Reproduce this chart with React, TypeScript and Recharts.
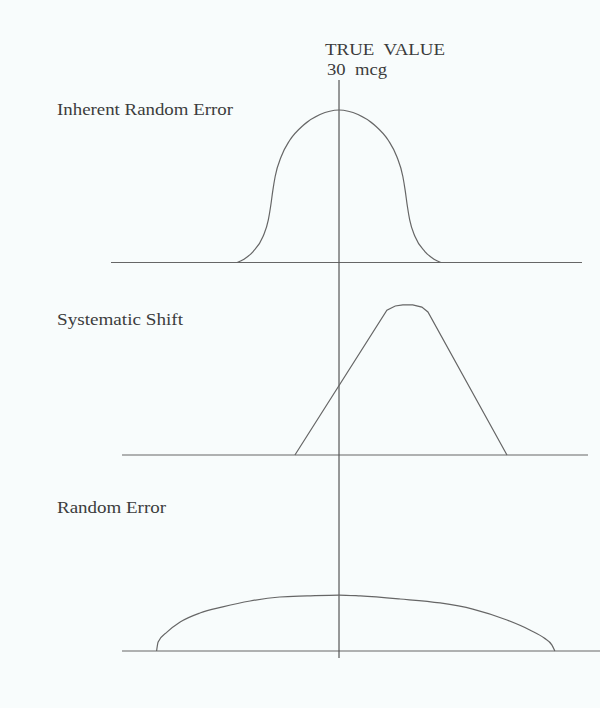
import React from 'react';
import { ComposedChart, Line, XAxis, YAxis, ReferenceLine, Customized } from 'recharts';

// ---- data (x in mcg-like units, y in relative frequency) ----
const TRUE_VALUE = 30;
const X_DOMAIN: [number, number] = [0, 64.34];

const inherentX = [16.6, 17.5, 18.7, 20.0, 20.7, 21.0, 21.3, 21.6, 22.4, 23.5, 25.3, 27.5, 30, 32.5, 34.7, 36.5, 37.6, 38.4, 38.7, 39.0, 39.3, 40.0, 41.3, 42.5, 43.4];
const inherentY = [0, 0.22, 0.72, 1.7, 2.79, 3.67, 4.75, 5.64, 6.95, 8.0, 9.0, 9.7, 10, 9.7, 9.0, 8.0, 6.95, 5.64, 4.75, 3.67, 2.79, 1.7, 0.72, 0.22, 0];

const shiftX = [24.2, 36.3, 37.4, 38.4, 39.7, 40.9, 41.7, 52.1];
const shiftY = [0, 9.5, 9.77, 9.84, 9.84, 9.7, 9.38, 0];

const randomX = [6.0, 6.2, 7.4, 9.1, 11.7, 14.7, 18.3, 22.2, 25.8, 30.0, 32.8, 38.0, 43.3, 47.6, 52.1, 55.1, 57.0, 58.0, 58.4];
const randomY = [0, 0.59, 1.25, 1.9, 2.49, 2.89, 3.28, 3.54, 3.61, 3.67, 3.61, 3.41, 3.15, 2.75, 2.03, 1.38, 0.85, 0.4, 0];

const inherentBaseline: [number, number] = [0, 61.97];
const shiftBaseline: [number, number] = [1.45, 62.76];
const randomBaseline: [number, number] = [1.45, 64.34];

const panelLabels = ['Inherent Random Error', 'Systematic Shift', 'Random Error'];
const trueValueLabels = ['TRUE  VALUE', '30  mcg'];

// ---- layout ----
const W = 600;
const H = 708;
const PLOT_TOP = 80;
const PLOT_BOTTOM = 658;
const PLOT_LEFT = 111;
const Y_PX = 15.25;

const LINE = '#666';
const TEXT = '#3c3c3c';
const FONT = '"Liberation Serif", "Times New Roman", serif';

const toRows = (xs: number[], ys: number[]) => xs.map((x, i) => ({ x, y: ys[i] }));
const domainFor = (basePx: number): [number, number] => [
  -(PLOT_BOTTOM - basePx) / Y_PX,
  (basePx - PLOT_TOP) / Y_PX,
];

const panels = [
  { id: 'inherent', base: 262.5, rows: toRows(inherentX, inherentY), baseline: inherentBaseline, type: 'monotone' as const, label: panelLabels[0], labelY: 115, labelLen: 176 },
  { id: 'shift', base: 455, rows: toRows(shiftX, shiftY), baseline: shiftBaseline, type: 'linear' as const, label: panelLabels[1], labelY: 325, labelLen: 126 },
  { id: 'random', base: 651, rows: toRows(randomX, randomY), baseline: randomBaseline, type: 'monotone' as const, label: panelLabels[2], labelY: 513, labelLen: 109 },
];

const Texts = () => (
  <g fontFamily={FONT} fill={TEXT} fontSize={17} style={{ whiteSpace: 'pre' }}>
    <text x={325} y={55} textLength={120} lengthAdjust="spacingAndGlyphs" xmlSpace="preserve">{trueValueLabels[0]}</text>
    <text x={327} y={75} textLength={60} lengthAdjust="spacingAndGlyphs" xmlSpace="preserve">{trueValueLabels[1]}</text>
    {panels.map((p) => (
      <text key={p.id} x={57} y={p.labelY} textLength={p.labelLen} lengthAdjust="spacingAndGlyphs">{p.label}</text>
    ))}
  </g>
);

export default function App() {
  return (
    <div style={{ position: 'fixed', left: 0, top: 0, width: W, height: H, background: '#f8fcfc' }}>
      <ComposedChart
        width={W}
        height={H}
        margin={{ top: PLOT_TOP, right: 0, bottom: H - PLOT_BOTTOM, left: PLOT_LEFT }}
      >
        <XAxis type="number" dataKey="x" domain={X_DOMAIN} allowDataOverflow hide />
        {panels.map((p) => (
          <YAxis key={p.id} yAxisId={p.id} type="number" domain={domainFor(p.base)} allowDataOverflow hide />
        ))}
        {panels.map((p) => (
          <ReferenceLine
            key={'b' + p.id}
            yAxisId={p.id}
            segment={[{ x: p.baseline[0], y: 0 }, { x: p.baseline[1], y: 0 }]}
            stroke={LINE}
            strokeWidth={1.2}
          />
        ))}
        <ReferenceLine x={TRUE_VALUE} yAxisId="inherent" stroke="#555" strokeWidth={1.2} />
        {panels.map((p) => (
          <Line
            key={'l' + p.id}
            data={p.rows}
            dataKey="y"
            yAxisId={p.id}
            type={p.type}
            stroke={LINE}
            strokeWidth={1.2}
            dot={false}
            activeDot={false}
            isAnimationActive={false}
          />
        ))}
        <Customized component={Texts} />
      </ComposedChart>
    </div>
  );
}
